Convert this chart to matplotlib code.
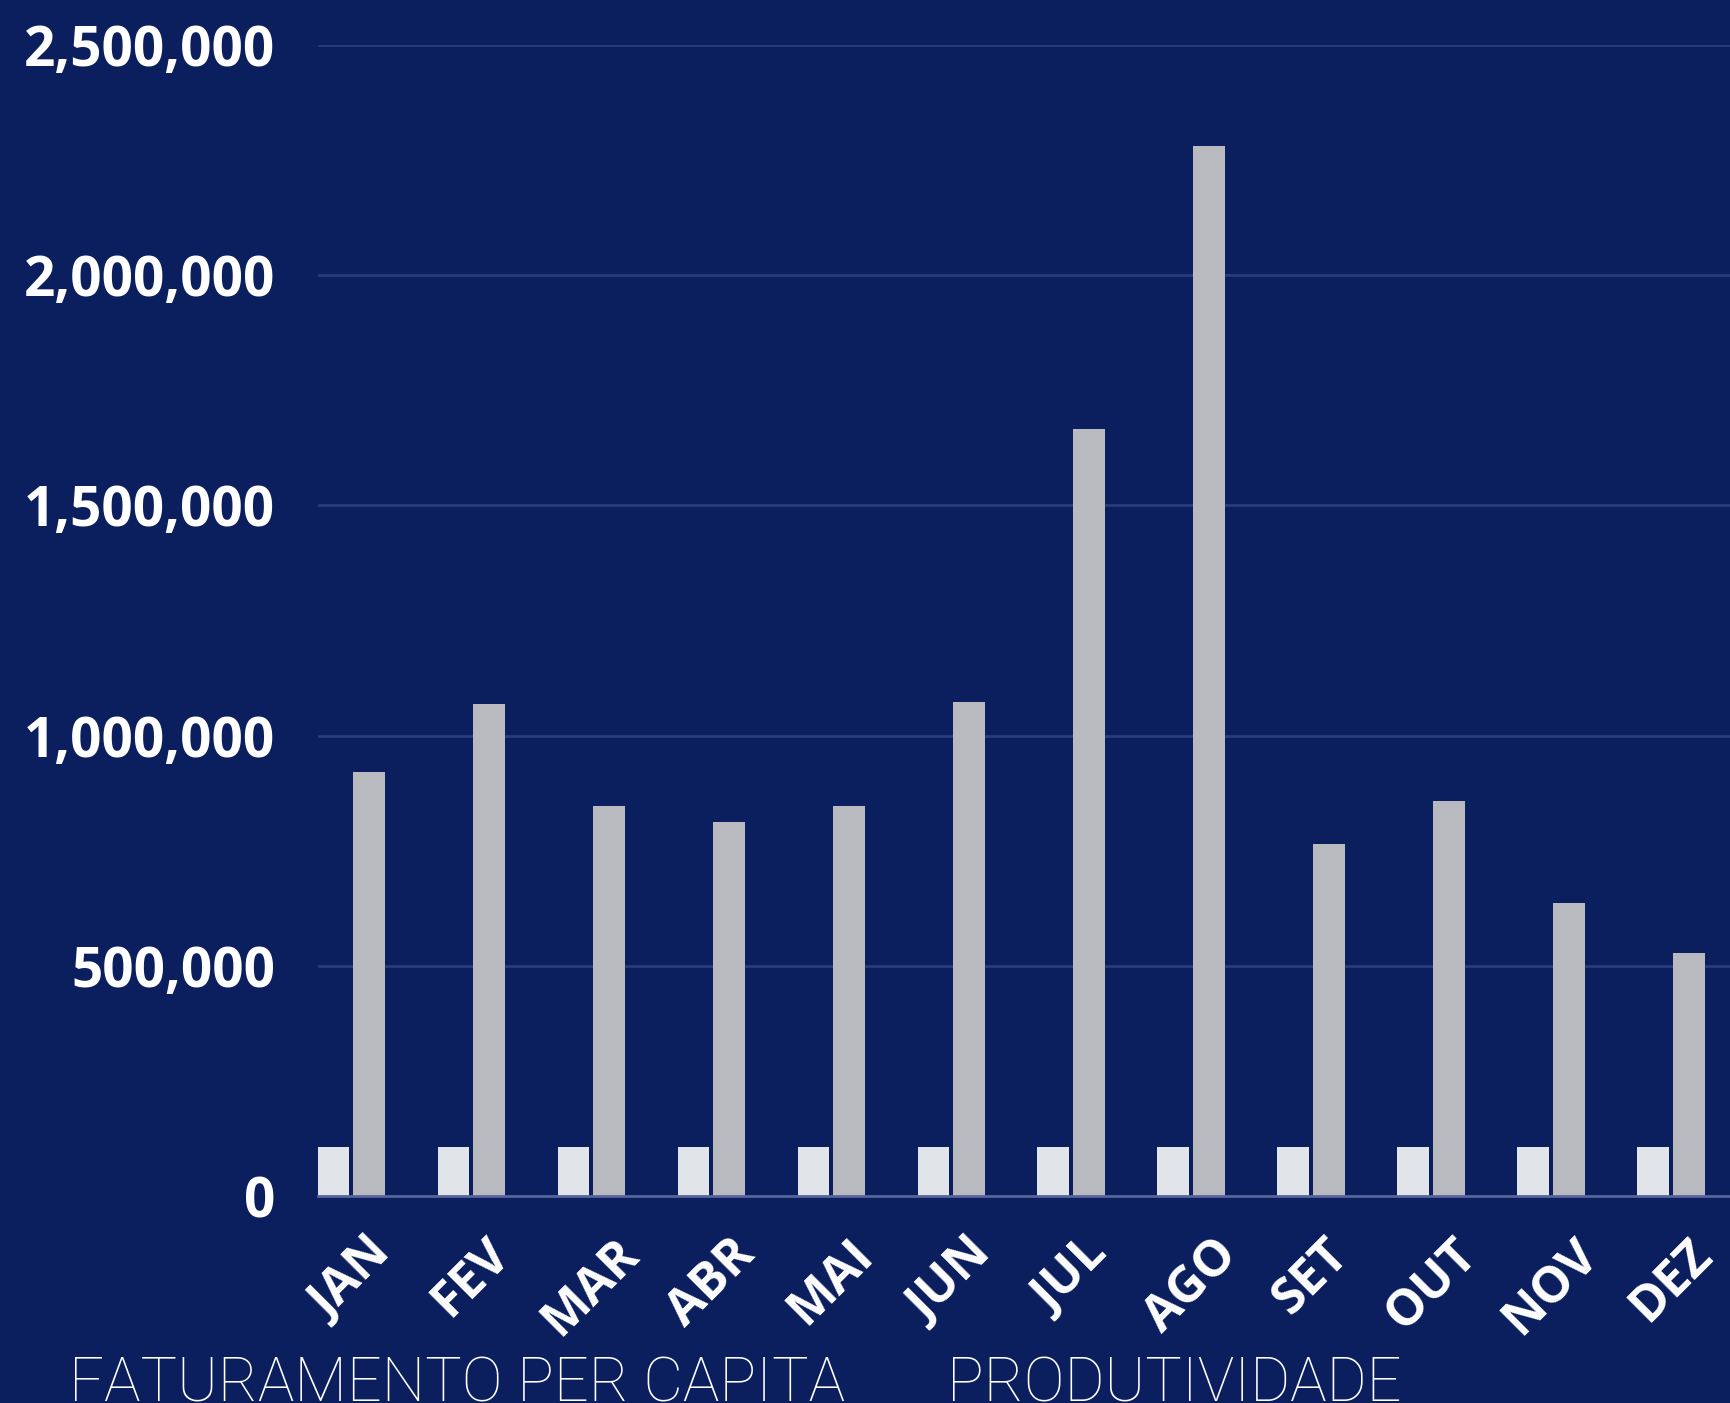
import matplotlib as mpl

mpl.use("Agg")
import matplotlib.pyplot as plt
import numpy as np
from matplotlib.ticker import FuncFormatter

BG = "#0b1f5e"
GRID = "#2a3b78"
BASE = "#56649a"
LIGHT = "#e1e4e9"
DARK = "#b9babf"

MONTHS = ["JAN", "FEV", "MAR", "ABR", "MAI", "JUN", "JUL", "AGO", "SET", "OUT", "NOV", "DEZ"]
FATURAMENTO = [107000] * 12
PRODUTIVIDADE = [922000, 1068000, 848000, 812000, 848000, 1073000,
                 1667000, 2280000, 764000, 857000, 637000, 527000]
Y_TICKS = [0, 500000, 1000000, 1500000, 2000000, 2500000]
LEGEND = ["FATURAMENTO PER CAPITA", "PRODUTIVIDADE"]

fig = plt.figure(figsize=(17.3, 14.03), dpi=100)
fig.patch.set_facecolor(BG)

ax = fig.add_axes([318 / 1730, 1 - 1196 / 1403, 1 - 318 / 1730, (1196 - 45) / 1403])
ax.set_facecolor(BG)

x = np.arange(len(MONTHS))
w = 0.265
ax.bar(x - 0.149, FATURAMENTO, width=w, color=LIGHT, zorder=3)
ax.bar(x + 0.149, PRODUTIVIDADE, width=w, color=DARK, zorder=3)

ax.set_xlim(-0.278, 11.49)
ax.set_ylim(0, 2500000)
ax.set_yticks(Y_TICKS)
ax.yaxis.set_major_formatter(FuncFormatter(lambda v, p: f"{int(v):,}"))
ax.grid(axis="y", color=GRID, linewidth=2, zorder=0)
ax.set_axisbelow(True)

for s in ["top", "right", "left"]:
    ax.spines[s].set_visible(False)
ax.spines["bottom"].set_color(BASE)
ax.spines["bottom"].set_linewidth(2)
ax.spines["bottom"].set_zorder(4)

ax.tick_params(axis="y", length=0, pad=31, labelcolor="white")
ax.tick_params(axis="x", length=0, pad=24, labelcolor="white")
for lab in ax.get_yticklabels():
    lab.set_fontfamily("Open Sans")
    lab.set_fontweight("bold")
    lab.set_fontsize(39.5)

ax.set_xticks(x)
ax.set_xticklabels(MONTHS, rotation=45, ha="center", va="top",
                   fontfamily="Open Sans", fontweight="bold", fontsize=36)

fig.text(69 / 1730, 1 - 1355 / 1403, LEGEND[0], color="white", fontsize=44,
         fontfamily="Roboto", fontweight="light", ha="left", va="top")
fig.text(947 / 1730, 1 - 1355 / 1403, LEGEND[1], color="white", fontsize=44,
         fontfamily="Roboto", fontweight="light", ha="left", va="top")

fig.savefig("out.png", dpi=100, facecolor=BG)
